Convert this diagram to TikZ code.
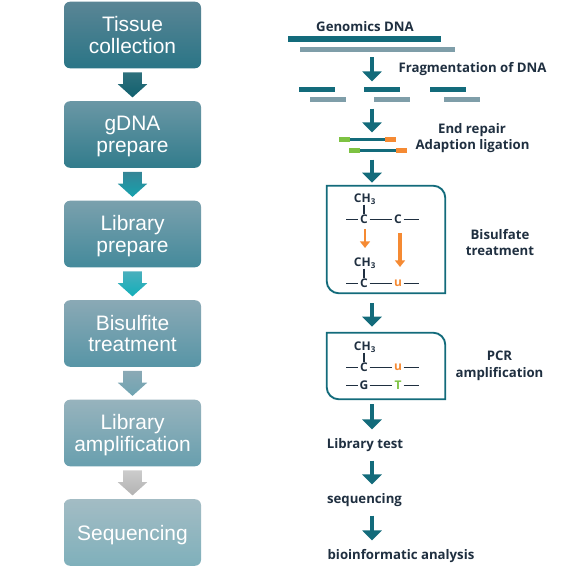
\documentclass[tikz,border=0pt]{standalone}
\usepackage{fontspec}
\setsansfont{Liberation Sans}
\newfontfamily\labelfont{Open Sans}
\usetikzlibrary{positioning,arrows.meta,shapes.arrows}
\definecolor{tealdark}{HTML}{136B7B}
\definecolor{tealgray}{HTML}{7F9EA9}
\definecolor{inkdark}{HTML}{1F2F40}
\definecolor{adaptgreen}{HTML}{7DC242}
\definecolor{adaptorange}{HTML}{F58A33}
\definecolor{boxa}{HTML}{5A8595}\definecolor{boxb}{HTML}{1F7A8B}\definecolor{boxc}{HTML}{2A7586}
\definecolor{boxd}{HTML}{6A97A5}\definecolor{boxe}{HTML}{358596}\definecolor{boxf}{HTML}{327C8C}
\definecolor{boxg}{HTML}{7AA0AD}\definecolor{boxh}{HTML}{44899B}\definecolor{boxi}{HTML}{448A9B}
\definecolor{boxj}{HTML}{8AA9B5}\definecolor{boxk}{HTML}{5C9BAC}\definecolor{boxl}{HTML}{5795A6}
\definecolor{boxm}{HTML}{97B3BD}\definecolor{boxn}{HTML}{6FA4B2}\definecolor{boxo}{HTML}{689FAE}
\definecolor{boxp}{HTML}{A3BCC4}\definecolor{boxq}{HTML}{86B3BE}\definecolor{boxr}{HTML}{7FB0BB}
\begin{document}
\begin{tikzpicture}[
  x=.75pt,y=-.75pt,
  stage/.style={
    rounded corners=4.5pt,
    minimum width=102.75pt,
    minimum height=49.9pt,
    inner sep=0pt,
    align=center,
    text=white,
    font=\sffamily\fontsize{15.7}{16.4}\selectfont
  },
  blockarrow/.style={
    single arrow,
    shape border rotate=270,
    single arrow tip angle=96,
    single arrow head extend=4.1pt,
    text width=13.5pt,
    minimum height=18.75pt,
    inner sep=0pt,
    yshift=3pt
  },
  strand/.style={inner sep=0pt,minimum height=4.2pt},
  topstrand/.style={strand,fill=tealdark},
  lowstrand/.style={strand,fill=tealgray},
  flow/.style={
    draw=tealdark,
    line width=3pt,
    -{Triangle[length=7.5pt,width=14.25pt]}
  },
  step label/.style={
    inner sep=0pt,
    align=center,
    text=inkdark,
    font=\labelfont\bfseries\fontsize{9.9}{12.4}\selectfont
  },
  atom/.style={
    inner sep=0pt,
    minimum size=8pt,
    text=inkdark,
    font=\labelfont\bfseries\fontsize{9}{10}\selectfont
  },
  bond/.style={draw=inkdark,line width=1.4pt},
  frame/.style={draw=none,inner sep=0pt,minimum width=88.5pt},
  frameline/.style={draw=tealdark,line width=1.4pt},
  turn/.style={
    draw=adaptorange,
    -{Triangle[length=5pt,width=7.5pt]}
  }
]
  \useasboundingbox (0,0) rectangle (574,566);

  % left column
  \node[stage,top color=boxa,middle color=boxb,bottom color=boxc] at (132.5,35) (tissue) {Tissue\\collection};
  \node[stage,top color=boxd,middle color=boxe,bottom color=boxf] at (132.5,134.5) (gdna) {\rule{0pt}{14.3pt}gDNA\\prepare};
  \node[stage,top color=boxg,middle color=boxh,bottom color=boxi] at (132.5,234) (library) {\rule{0pt}{14.3pt}Library\\prepare};
  \node[stage,top color=boxj,middle color=boxk,bottom color=boxl] at (132.5,333.5) (bisulfite) {Bisulfite\\treatment};
  \node[stage,top color=boxm,middle color=boxn,bottom color=boxo] at (132.5,433) (amplify) {\rule{0pt}{14.3pt}Library\\amplification};
  \node[stage,top color=boxp,middle color=boxq,bottom color=boxr] at (132.5,532.5) (sequence) {\rule{0pt}{15.8pt}Sequencing};

  \path (tissue) -- (gdna) node[midway,blockarrow,top color=tealdark!75!gray,bottom color=tealdark!90!black] (down1) {};
  \path (gdna) -- (library) node[midway,blockarrow,top color=boxe,bottom color=boxb!70!cyan] (down2) {};
  \path (library) -- (bisulfite) node[midway,blockarrow,top color=boxk!80!cyan,bottom color=boxb!60!cyan] (down3) {};
  \path (bisulfite) -- (amplify) node[midway,blockarrow,top color=boxj,bottom color=boxn] (down4) {};
  \path (amplify) -- (sequence) node[midway,blockarrow,top color=gray!40,bottom color=gray!60] (down5) {};

  % right column
  \coordinate (spine) at (372,0);

  \node[step label] (genomics) at (365,27) {Genomics DNA};
  \node[topstrand,minimum width=114.75pt] (long1) at (364.5,39) {};
  \node[lowstrand,minimum width=116.25pt] (long2) at (377.5,49.5) {};

  \node[step label] (fragment) at (472.5,69) {Fragmentation of DNA};
  \node[topstrand,minimum width=27pt] (frag1) at (317,89.5) {};
  \node[topstrand,minimum width=27pt] (frag2) at (382,89.5) {};
  \node[topstrand,minimum width=27pt] (frag3) at (447.5,89.5) {};
  \node[lowstrand,minimum width=27pt] (frag4) at (327.5,99.5) {};
  \node[lowstrand,minimum width=27pt] (frag5) at (392,99.5) {};
  \node[lowstrand,minimum width=27pt] (frag6) at (462,99.5) {};

  \node[step label] (repair) at (472,130) {End repair};
  \node[step label] (ligation) at (472.5,146.5) {Adaption ligation};
  \node[strand,fill=adaptgreen,minimum width=8.25pt] (green1) at (344.5,139.5) {};
  \node[strand,fill=adaptorange,minimum width=8.25pt] (orange1) at (390.5,139.5) {};
  \node[strand,fill=adaptgreen,minimum width=8.25pt] (green2) at (354.5,150.5) {};
  \node[strand,fill=adaptorange,minimum width=8.25pt] (orange2) at (401.5,150.5) {};
  \draw[tealdark,line width=2.4pt] (green1) -- (orange1);
  \draw[tealdark,line width=2.4pt] (green2) -- (orange2);

  \node[frame,minimum height=80.25pt] (treat) at (386,239.5) {};
  \draw[frameline] (treat.north west) [rounded corners=9pt] -- (treat.north east) [sharp corners] -- (treat.south east) [rounded corners=9pt] -- (treat.south west) [sharp corners] -- cycle;

  \node[atom] (ch1) at (365,199) {CH\textsubscript{3}};
  \node[atom] (c1) at (364,219.5) {C};
  \node[atom] (c2) at (398,219.5) {C};
  \coordinate (l1) at (346,219.5);
  \coordinate (r1) at (419,219.5);
  \draw[bond] (ch1.south -| c1) -- (c1);
  \draw[bond] (l1) -- (c1);
  \draw[bond] (c1) -- (c2);
  \draw[bond] (c2) -- (r1);

  \coordinate (t1) at (365,229);
  \coordinate (t2) at (365,248);
  \coordinate (t3) at (400,233);
  \coordinate (t4) at (400,267);
  \draw[turn,line width=2pt] (t1) -- (t2);
  \draw[turn,line width=3pt] (t3) -- (t4);

  \node[atom] (ch2) at (365,263) {CH\textsubscript{3}};
  \node[atom] (c3) at (364,283.5) {C};
  \node[atom,text=adaptorange] (u1) at (398,283.5) {u};
  \coordinate (l2) at (346,283.5);
  \coordinate (r2) at (419,283.5);
  \draw[bond] (ch2.south -| c3) -- (c3);
  \draw[bond] (l2) -- (c3);
  \draw[bond] (c3) -- (u1);
  \draw[bond] (u1) -- (r2);

  \node[step label] (bisulfate) at (500,242.5) {Bisulfate\\treatment};

  \node[frame,minimum height=49.5pt] (pcrbox) at (386,366) {};
  \draw[frameline] (pcrbox.north west) [rounded corners=9pt] -- (pcrbox.north east) [sharp corners] -- (pcrbox.south east) [rounded corners=9pt] -- (pcrbox.south west) [sharp corners] -- cycle;

  \node[atom] (ch3) at (365,347) {CH\textsubscript{3}};
  \node[atom] (c4) at (364,367.5) {C};
  \node[atom,text=adaptorange] (u2) at (398,367.5) {u};
  \node[atom] (g1) at (364,385.5) {G};
  \node[atom,text=adaptgreen] (t5) at (398,385.5) {T};
  \coordinate (l3) at (346,367.5);
  \coordinate (r3) at (419,367.5);
  \coordinate (l4) at (346,385.5);
  \coordinate (r4) at (419,385.5);
  \draw[bond] (ch3.south -| c4) -- (c4);
  \draw[bond] (l3) -- (c4);
  \draw[bond] (c4) -- (u2);
  \draw[bond] (u2) -- (r3);
  \draw[bond] (l4) -- (g1);
  \draw[bond] (g1) -- (t5);
  \draw[bond] (t5) -- (r4);

  \node[step label] (pcr) at (499.5,366) {PCR\\amplification};

  \node[step label] (libtest) at (365,445) {Library test};
  \node[step label] (seqstep) at (364.5,500) {sequencing};
  \node[step label] (analysis) at (401,556) {bioinformatic analysis};

  \draw[flow,shorten <=3.6pt,shorten >=3.75pt] (long2.south -| spine) -- (frag2.north -| spine);
  \draw[flow,shorten <=4.5pt,shorten >=3pt] (frag5.south -| spine) -- (green1.north -| spine);
  \draw[flow,shorten <=4.5pt,shorten >=2.25pt] (green2.south -| spine) -- (treat.north -| spine);
  \draw[flow,shorten <=7.5pt,shorten >=4.5pt] (treat.south -| spine) -- (pcrbox.north -| spine);
  \draw[flow,shorten <=3.75pt,shorten >=6.5pt] (pcrbox.south -| spine) -- (libtest.north -| spine);
  \draw[flow,shorten <=6.5pt,shorten >=6.5pt] (libtest.south -| spine) -- (seqstep.north -| spine);
  \draw[flow,shorten <=6.5pt,shorten >=6.5pt] (seqstep.south -| spine) -- (analysis.north -| spine);
\end{tikzpicture}
\end{document}
